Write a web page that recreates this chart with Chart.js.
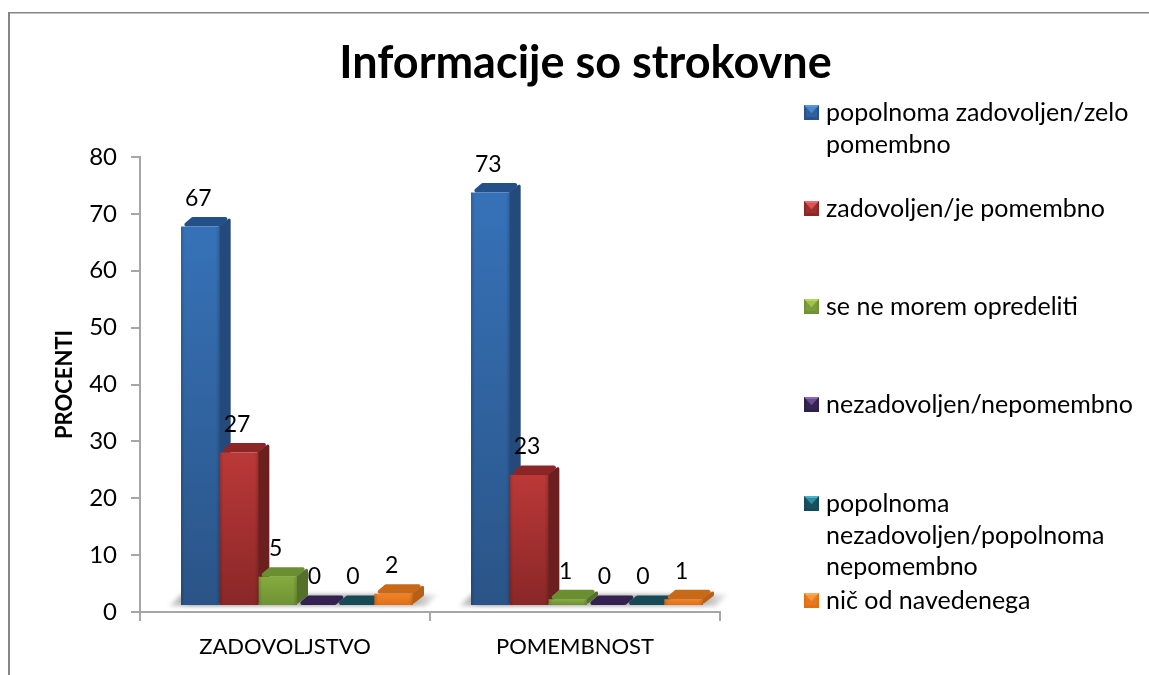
<!DOCTYPE html>
<html>
<head>
<meta charset="utf-8">
<style>html,body{margin:0;padding:0;background:#fff}#w{position:absolute;left:0;top:0;width:1149px;height:675px}</style>
<script src="https://cdn.jsdelivr.net/npm/chart.js@4"></script>
</head>
<body>
<div id="w"><canvas id="c" width="1149" height="675"></canvas></div>
<script>
const categories = ['ZADOVOLJSTVO', 'POMEMBNOST'];
const chartTitle = 'Informacije so strokovne';
const yAxisTitle = 'PROCENTI';
const seriesNames = ['popolnoma zadovoljen/zelo pomembno','zadovoljen/je pomembno','se ne morem opredeliti','nezadovoljen/nepomembno','popolnoma nezadovoljen/popolnoma nepomembno','nič od navedenega'];
const popolnomaZadovoljen = [67, 73];
const zadovoljen = [27, 23];
const neMoremOpredeliti = [5, 1];
const nezadovoljen = [0, 0];
const popolnomaNezadovoljen = [0, 0];
const nicOdNavedenega = [2, 1];
const seriesValues = [popolnomaZadovoljen, zadovoljen, neMoremOpredeliti, nezadovoljen, popolnomaNezadovoljen, nicOdNavedenega];

const frontTop = ['#3672b8','#bb3838','#85ab3e','#3c2a5c','#1c5866','#f28225'];
const frontBottom = ['#2a5487','#8a2727','#6f9234','#2e2048','#174a57','#de7019'];
const sideColor = ['#234a7a','#6b1f1f','#55702a','#2a1c42','#123c47','#b85f16'];
const capColor = ['#24508a','#8c2626','#6b8f30','#33224f','#174a57','#c66a1a'];
const swatchLight = ['#5b9bd5','#f06a6a','#b4d65a','#8a6ab8','#45b5cc','#fbaa55'];

const legendLines = [['popolnoma zadovoljen/zelo','pomembno'],['zadovoljen/je pomembno'],['se ne morem opredeliti'],['nezadovoljen/nepomembno'],['popolnoma','nezadovoljen/popolnoma','nepomembno'],['nič od navedenega']];
const legendFirstLineY = [113, 209, 307, 405, 504, 601];
const legendLineHeight = 31.5;
const FONT = 'Lato, Carlito, sans-serif';
const GREY = '#a6a6a6';
const SHIFT_X = 12, DX = 11, DY = 9.5;

function roundedPoly(ctx, pts, r){
  ctx.beginPath();
  const m=(a,b)=>[(a[0]+b[0])/2,(a[1]+b[1])/2];
  const s=m(pts[0],pts[1]);
  ctx.moveTo(s[0],s[1]);
  for(let i=1;i<=pts.length;i++){
    const p=pts[i%pts.length], n=pts[(i+1)%pts.length], q=m(p,n);
    ctx.arcTo(p[0],p[1],q[0],q[1],r);
  }
  ctx.closePath();
}

const solidBars = {
  id:'solidBars',
  beforeDraw(chart){
    const ctx=chart.ctx;
    ctx.save();
    ctx.strokeStyle='#858585';
    ctx.lineWidth=2;
    ctx.beginPath();ctx.moveTo(9,675);ctx.lineTo(9,13);ctx.stroke();
    ctx.lineWidth=1.4;
    ctx.beginPath();ctx.moveTo(8,12.7);ctx.lineTo(1149,12.7);ctx.stroke();
    ctx.restore();
  },
  beforeDatasetsDraw(chart){
    const ctx=chart.ctx;
    ctx.save();
    ctx.translate(SHIFT_X,0);
    const n=chart.data.datasets.length;
    chart.data.labels.forEach((_,j)=>{
      const a=chart.getDatasetMeta(0).data[j], b=chart.getDatasetMeta(n-1).data[j];
      const l=a.x-a.width/2, r=b.x+b.width/2+DX, y=a.base;
      ctx.save();
      ctx.filter='blur(2px)';
      const g=ctx.createLinearGradient(l-12,0,r+14,0);
      g.addColorStop(0,'rgba(0,0,0,.12)');g.addColorStop(.08,'rgba(0,0,0,.4)');g.addColorStop(.9,'rgba(0,0,0,.32)');g.addColorStop(1,'rgba(0,0,0,.05)');
      ctx.fillStyle=g;
      ctx.beginPath();ctx.moveTo(l-12,y+1);ctx.lineTo(l,y-DY-1);ctx.lineTo(r+14,y-DY-1);ctx.lineTo(r+2,y+1);ctx.closePath();ctx.fill();
      ctx.restore();
    });
    chart.data.datasets.forEach((ds,i)=>{
      chart.getDatasetMeta(i).data.forEach(e=>{
        const l=e.x-e.width/2, r=e.x+e.width/2, t=e.y, b=e.base;
        if(b-t>0.5){
          ctx.fillStyle=sideColor[i];
          roundedPoly(ctx,[[r-1,t],[r+DX,t-DY],[r+DX,b-DY],[r-1,b]],1.5);ctx.fill();
        }
        ctx.fillStyle=capColor[i];
        roundedPoly(ctx,[[l,t],[l+DX,t-DY],[r+DX,t-DY],[r,t]],2);ctx.fill();
      });
    });
  },
  afterDatasetsDraw(chart){
    const ctx=chart.ctx;
    chart.data.datasets.forEach((ds,i)=>{
      chart.getDatasetMeta(i).data.forEach(e=>{
        const l=e.x-e.width/2, r=e.x+e.width/2;
        if(e.base-e.y<0.5) return;
        const g=ctx.createLinearGradient(l,0,r,0);
        g.addColorStop(0,'rgba(0,0,0,.16)');g.addColorStop(.1,'rgba(0,0,0,0)');g.addColorStop(.9,'rgba(0,0,0,0)');g.addColorStop(1,'rgba(0,0,0,.16)');
        ctx.fillStyle=g;ctx.fillRect(l,e.y,r-l,e.base-e.y);
      });
    });
    ctx.fillStyle='#000';
    ctx.font='23px '+FONT;
    ctx.textAlign='center';
    ctx.textBaseline='middle';
    chart.data.datasets.forEach((ds,i)=>{
      chart.getDatasetMeta(i).data.forEach((e,j)=>{
        ctx.fillText(String(ds.data[j]),e.x-2,e.y-28);
      });
    });
    ctx.restore();
  },
  afterDraw(chart){
    const ctx=chart.ctx;
    ctx.save();
    ctx.font='25px '+FONT;
    ctx.textBaseline='middle';
    ctx.textAlign='left';
    legendLines.forEach((lines,i)=>{
      const y0=legendFirstLineY[i], x=804, s=15, top=y0-8;
      ctx.fillStyle=frontBottom[i];ctx.fillRect(x,top,s,s);
      ctx.fillStyle=swatchLight[i];
      ctx.beginPath();ctx.moveTo(x,top);ctx.lineTo(x+s,top);ctx.lineTo(x+s/2,top+s*.55);ctx.closePath();ctx.fill();
      ctx.fillStyle=frontTop[i];
      ctx.beginPath();ctx.moveTo(x+2,top+2);ctx.lineTo(x+s-2,top+2);ctx.lineTo(x+s-2,top+s-3);ctx.lineTo(x+2,top+s-3);ctx.closePath();
      ctx.globalAlpha=.45;ctx.fill();ctx.globalAlpha=1;
      ctx.fillStyle='#000';
      lines.forEach((t,k)=>ctx.fillText(t,826,y0+k*legendLineHeight));
    });
    ctx.restore();
  }
};

new Chart(document.getElementById('c'),{
  type:'bar',
  data:{
    labels:categories,
    datasets:seriesValues.map((v,i)=>({
      label:seriesNames[i],
      data:v,
      yAxisID:'yBars',
      categoryPercentage:0.8,
      barPercentage:1,
      borderWidth:0,
      backgroundColor(c){
        const a=c.chart.chartArea, sc=c.chart.scales.yBars;
        if(!a||!sc||c.raw===undefined) return frontTop[i];
        const g=c.chart.ctx.createLinearGradient(0,sc.getPixelForValue(c.raw),0,sc.getPixelForValue(0));
        g.addColorStop(0,frontTop[i]);g.addColorStop(1,frontBottom[i]);
        return g;
      }
    }))
  },
  options:{
    responsive:false,
    animation:false,
    layout:{autoPadding:false,padding:{left:22,right:0,top:36,bottom:0}},
    plugins:{
      legend:{display:false},
      tooltip:{enabled:false},
      title:{display:true,text:chartTitle,color:'#000',font:{family:FONT,size:45,weight:'bold',lineHeight:1.2},padding:{top:0,bottom:67}}
    },
    scales:{
      x:{
        grid:{drawOnChartArea:false,drawTicks:true,tickLength:9,color:GREY,lineWidth:2},
        border:{display:true,color:GREY,width:2},
        ticks:{color:'#000',font:{family:FONT,size:22},padding:13},
        afterFit(s){s.height=63;}
      },
      y:{
        position:'left',min:0,max:80,
        grid:{drawOnChartArea:false,drawTicks:true,tickLength:9,color:GREY,lineWidth:2},
        border:{display:true,color:GREY,width:2},
        ticks:{stepSize:10,color:'#000',font:{family:FONT,size:24},padding:14},
        title:{display:true,text:yAxisTitle,color:'#000',font:{family:FONT,size:22,weight:'bold'},padding:{top:30,bottom:0}},
        afterFit(s){s.width=118;}
      },
      yBars:{
        position:'right',min:-1.24,max:79.3,
        grid:{display:false},border:{display:false},
        ticks:{display:false},
        afterFit(s){s.width=429;}
      }
    }
  },
  plugins:[solidBars]
});
</script>
</body>
</html>
